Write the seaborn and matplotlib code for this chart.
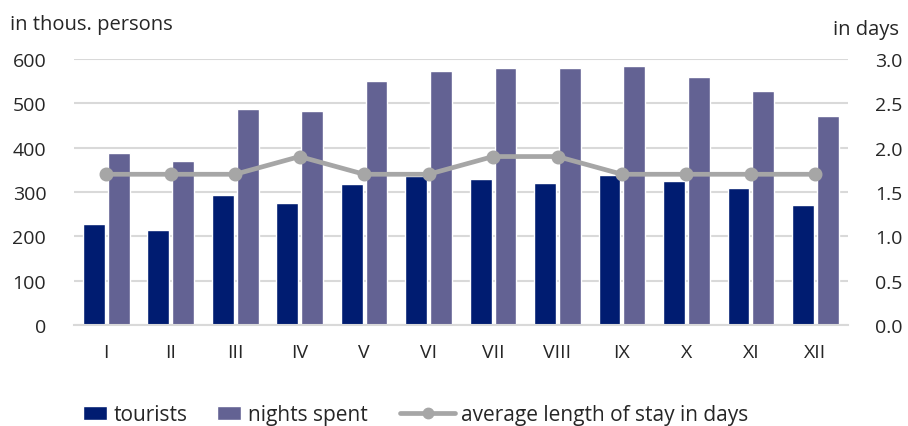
import matplotlib
matplotlib.use("Agg")
import matplotlib.pyplot as plt
import seaborn as sns
import pandas as pd
from matplotlib.patches import Patch
from matplotlib.lines import Line2D

months = ["I", "II", "III", "IV", "V", "VI", "VII", "VIII", "IX", "X", "XI", "XII"]
tourists = [228, 214, 293, 275, 317, 335, 330, 320, 338, 325, 308, 271]
nights = [388, 369, 487, 482, 551, 573, 580, 580, 585, 560, 528, 471]
avg_stay = [1.7, 1.7, 1.7, 1.9, 1.7, 1.7, 1.9, 1.9, 1.7, 1.7, 1.7, 1.7]

c_tour = "#001c71"
c_night = "#636293"
c_line = "#a6a6a6"
c_text = "#262626"

sns.set_theme(style="white")
plt.rcParams["font.family"] = ["Open Sans", "DejaVu Sans"]

df = pd.DataFrame({
    "month": months * 2,
    "value": tourists + nights,
    "series": ["tourists"] * 12 + ["nights spent"] * 12,
})
df_line = pd.DataFrame({"month": months, "avg": avg_stay})

fig = plt.figure(figsize=(9.08, 4.27), dpi=100)
ax = fig.add_axes([0.0815, 0.2365, 0.852, 0.623])

sns.barplot(data=df, x="month", y="value", hue="series", order=months,
            hue_order=["tourists", "nights spent"],
            palette=[c_tour, c_night], width=0.77, gap=0.12,
            ax=ax, legend=False, errorbar=None, saturation=1)

ax.set_ylim(0, 600)
ax.set_yticks(range(0, 601, 100))
ax.set_xlim(-0.5, 11.5)
ax.grid(axis="y", color="#d9d9d9", linewidth=1.5)
ax.set_axisbelow(True)
for s in ["top", "right", "left"]:
    ax.spines[s].set_visible(False)
ax.spines["bottom"].set_color("#d9d9d9")
ax.spines["bottom"].set_linewidth(1.5)
ax.set_xlabel("")
ax.set_ylabel("")
ax.tick_params(axis="both", length=0, labelsize=14, colors=c_text)
ax.tick_params(axis="x", pad=13)
ax.tick_params(axis="y", pad=20)

ax2 = ax.twinx()
sns.pointplot(data=df_line, x="month", y="avg", order=months, color=c_line,
              markers="o", markersize=7.5, linewidth=3.4, ax=ax2, errorbar=None)
ax2.set_ylim(0, 3.0)
ax2.set_yticks([0, 0.5, 1.0, 1.5, 2.0, 2.5, 3.0])
ax2.set_yticklabels(["0.0", "0.5", "1.0", "1.5", "2.0", "2.5", "3.0"])
ax2.set_xlim(-0.5, 11.5)
for s in ["top", "right", "left", "bottom"]:
    ax2.spines[s].set_visible(False)
ax2.set_ylabel("")
ax2.set_xlabel("")
ax2.tick_params(axis="y", length=0, labelsize=14, colors=c_text, pad=20)

fig.text(0.011, 0.942, "in thous. persons", fontsize=14.5, color=c_text, ha="left", va="center")
fig.text(0.990, 0.93, "in days", fontsize=14.5, color=c_text, ha="right", va="center")

fs_leg = 15
bar_handles = [
    Patch(facecolor=c_tour, label="tourists"),
    Patch(facecolor=c_night, label="nights spent"),
]
leg1 = fig.legend(handles=bar_handles, loc="center left", bbox_to_anchor=(0.0914, 0.027),
                  ncol=2, frameon=False, fontsize=fs_leg, handlelength=1.15, handleheight=0.65,
                  handletextpad=0.3, columnspacing=1.45, borderpad=0, borderaxespad=0)
for t in leg1.get_texts():
    t.set_color(c_text)

line_handle = [Line2D([0], [0], color=c_line, lw=3.4, marker="o", markersize=7.5,
                      label="average length of stay in days")]
leg2 = fig.legend(handles=line_handle, loc="center left", bbox_to_anchor=(0.4405, 0.027),
                  frameon=False, fontsize=fs_leg, handlelength=2.65,
                  handletextpad=0.3, borderpad=0, borderaxespad=0)
for t in leg2.get_texts():
    t.set_color(c_text)

fig.savefig("out.png", dpi=100)
